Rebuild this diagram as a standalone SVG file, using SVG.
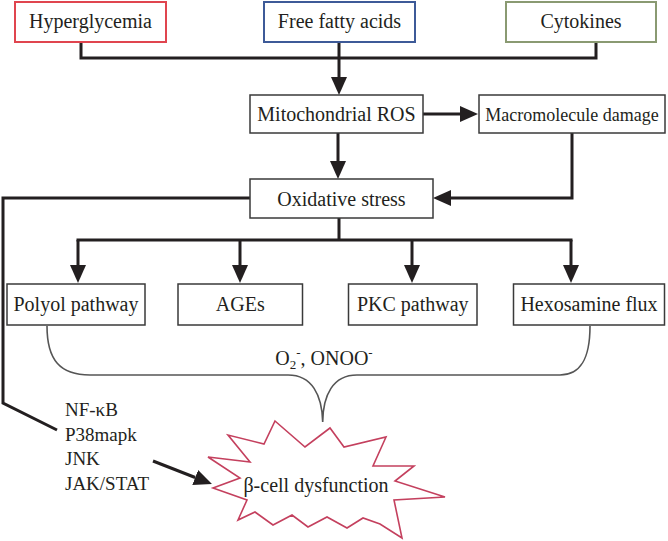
<svg xmlns="http://www.w3.org/2000/svg" width="668" height="541" viewBox="0 0 668 541">
<style>
.t{font-family:"Liberation Serif","Times New Roman",serif;font-size:20px;fill:#231f20;text-anchor:middle}
.s{font-size:18px}
.l{font-family:"Liberation Serif","Times New Roman",serif;font-size:19px;fill:#231f20}
.box{fill:#fff;stroke:#3a3a3a;stroke-width:1.5}
.c{fill:none;stroke:#231f20;stroke-width:3;stroke-linejoin:miter}
.a{marker-end:url(#ah)}
</style>
<defs>
<marker id="ah" markerUnits="userSpaceOnUse" markerWidth="18" markerHeight="16" refX="0" refY="8" orient="auto" viewBox="0 0 18 16">
<path d="M0,0 L18,8 L0,16 z" fill="#231f20"/>
</marker>
</defs>
<rect width="668" height="541" fill="#fff"/>
<g id="connectors">
<path class="c" d="M81,42 V58 H596 V42"/>
<path class="c a" d="M339,42 V77"/>
<path class="c a" d="M423,114 H460"/>
<path class="c a" d="M338,133 V161"/>
<path class="c a" d="M572,133 V198 H451"/>
<path class="c" d="M339,218 V240 M76.5,240 H572.5"/>
<path class="c a" d="M78,240 V265"/>
<path class="c a" d="M240,240 V265"/>
<path class="c a" d="M412,240 V265"/>
<path class="c a" d="M571,240 V265"/>
<path class="c" d="M250,198 H3 V403 L57,430"/>
<path class="c a" d="M153,461 L195.2,477.5"/>
<path d="M47,326 C47,360 60,375 90,375 L288,375 C312,375 322,395 322.7,422 C323,395 333,375 357,375 L560,375 C580,375 590,360 590,326" fill="none" stroke="#555" stroke-width="1.6"/>
</g>
<g id="hyperglycemia">
<rect x="15" y="2" width="151" height="40" fill="#fff" stroke="#e0454f" stroke-width="2"/>
<text class="t" x="90.5" y="28">Hyperglycemia</text>
</g>
<g id="ffa">
<rect x="264" y="2" width="151" height="40" fill="#fff" stroke="#3d5a98" stroke-width="2"/>
<text class="t" x="339.5" y="28">Free fatty acids</text>
</g>
<g id="cytokines">
<rect x="506" y="2" width="150" height="40" fill="#fff" stroke="#8a9a72" stroke-width="2"/>
<text class="t" x="581" y="28">Cytokines</text>
</g>
<g id="mito">
<rect class="box" x="250" y="95" width="173" height="38"/>
<text class="t" x="336.5" y="121">Mitochondrial ROS</text>
</g>
<g id="macro">
<rect class="box" x="479" y="95" width="186" height="38"/>
<text class="t s" x="572" y="120.5">Macromolecule damage</text>
</g>
<g id="oxidative">
<rect class="box" x="250" y="179" width="183" height="39"/>
<text class="t" x="341.5" y="206">Oxidative stress</text>
</g>
<g id="polyol">
<rect class="box" x="7" y="284" width="138" height="41"/>
<text class="t" x="76" y="311">Polyol pathway</text>
</g>
<g id="ages">
<rect class="box" x="178" y="284" width="124.5" height="41"/>
<text class="t" x="240.3" y="311">AGEs</text>
</g>
<g id="pkc">
<rect class="box" x="348.5" y="284" width="128.5" height="41"/>
<text class="t" x="412.8" y="311">PKC pathway</text>
</g>
<g id="hexosamine">
<rect class="box" x="513.5" y="284" width="151" height="41"/>
<text class="t" x="589" y="311">Hexosamine flux</text>
</g>
<g id="ros-label">
<text class="t" x="324" y="365">O<tspan font-size="13" dy="4">2</tspan><tspan font-size="13" dy="-12">-</tspan><tspan dy="8">, ONOO</tspan><tspan font-size="13" dy="-8">-</tspan></text>
</g>
<g id="kinases">
<text class="l" x="65" y="416">NF-κB</text>
<text class="l" x="65" y="441">P38mapk</text>
<text class="l" x="65" y="465">JNK</text>
<text class="l" x="65" y="490">JAK/STAT</text>
</g>
<g id="beta-cell">
<polygon points="275,421 305,447 330,428 344,447 386,437 373,466 414,466 395,481 445,497 394,500 402,538 380,524 363,518 347,528 327,517 308,527 292,515 273,525 255,512 238,520 247,500 213,488 240,478 208,457 250,462 228,435 264,444" fill="#fff" stroke="#c4405e" stroke-width="1.6" stroke-linejoin="miter"/>
<text class="t" x="316" y="492">β-cell dysfunction</text>
</g>
</svg>
